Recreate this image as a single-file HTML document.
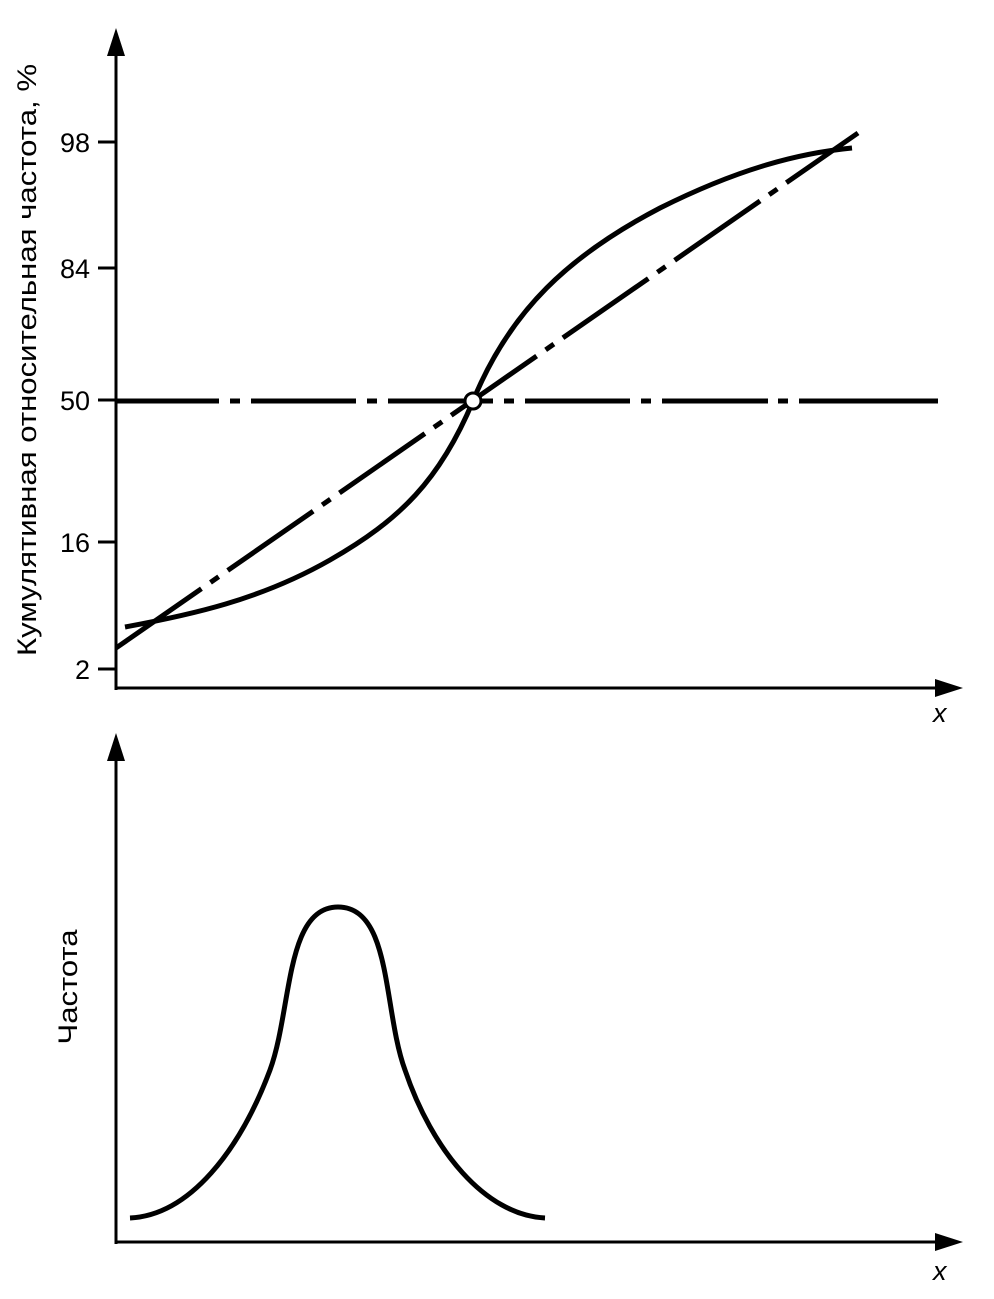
<!DOCTYPE html>
<html><head><meta charset="utf-8"><style>body{margin:0;background:#fff}svg{display:block}</style></head>
<body>
<svg width="994" height="1299" viewBox="0 0 994 1299" xmlns="http://www.w3.org/2000/svg" font-family="Liberation Sans, sans-serif">
<g stroke="#000" fill="none">
<line x1="116" y1="45" x2="116" y2="690" stroke-width="3"/>
<line x1="115" y1="688" x2="945" y2="688" stroke-width="3"/>
<g stroke-width="3">
<line x1="98" y1="142" x2="116" y2="142"/><line x1="98" y1="268" x2="116" y2="268"/>
<line x1="98" y1="400" x2="116" y2="400"/><line x1="98" y1="542" x2="116" y2="542"/>
<line x1="98" y1="669" x2="116" y2="669"/>
</g>
<path d="M116,401H219M230,401H240M251,401H356M367,401H377M388,401H493M504,401H514M525,401H630M641,401H651M662,401H768M778,401H788M799,401H938" stroke-width="5"/>
<line x1="116" y1="648" x2="858" y2="133" stroke-width="5" stroke-dasharray="104 11 10 11"/>
<path d="M125,627 C190,615 260,600 330,560 C400,520 440,480 473,401 C510,310 570,255 660,208 C740,168 800,153 852,148" stroke-width="5"/>
<circle cx="473" cy="401" r="8" fill="#fff" stroke-width="3"/>
<line x1="116" y1="750" x2="116" y2="1244" stroke-width="3"/>
<line x1="115" y1="1242" x2="945" y2="1242" stroke-width="3"/>
<path d="M130,1218 C190,1215 240,1150 270,1070 C292,1010 285,907 338,907 C392,907 383,1010 405,1070 C432,1150 485,1215 545,1218" stroke-width="5"/>
</g>
<polygon points="116,28 107,56 125,56"/>
<polygon points="963,688 935,679 935,697"/>
<polygon points="116,733 107,761 125,761"/>
<polygon points="963,1242 935,1233 935,1251"/>
<g font-size="27" text-anchor="end">
<text x="90" y="152">98</text><text x="90" y="278">84</text><text x="90" y="410">50</text><text x="90" y="552">16</text><text x="90" y="679">2</text>
</g>
<text transform="translate(36,360) rotate(-90)" font-size="27" text-anchor="middle" textLength="592" lengthAdjust="spacingAndGlyphs">Кумулятивная относительная частота, %</text>
<text transform="translate(77,987) rotate(-90)" font-size="27" text-anchor="middle" textLength="115" lengthAdjust="spacingAndGlyphs">Частота</text>
<text x="933" y="722" font-size="27" font-style="italic">x</text>
<text x="933" y="1280" font-size="27" font-style="italic">x</text>
</svg>
</body></html>
